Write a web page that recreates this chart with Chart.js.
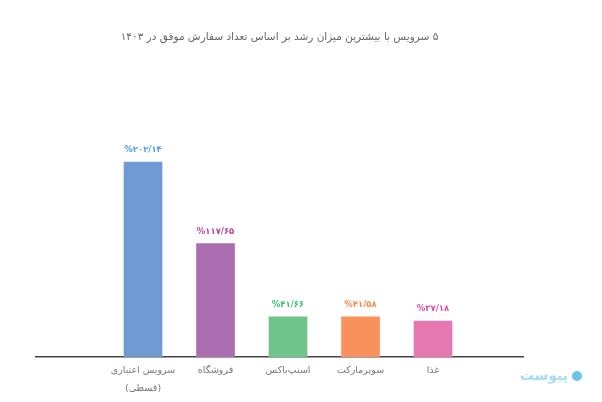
<!DOCTYPE html>
<html lang="fa">
<head>
<meta charset="utf-8">
<title>رشد سرویس‌ها</title>
<script src="https://cdn.jsdelivr.net/npm/chart.js@4/dist/chart.umd.min.js"></script>
<style>
  body { margin: 0; background: #fff; }
  #wrap { position: relative; width: 602px; height: 402px; }
  canvas { display: block; }
  #logo { position: absolute; left: 522px; top: 367px; width: 60px; color: #a5dcf2; font: bold 14px "DejaVu Sans", sans-serif; direction: rtl; white-space: nowrap; }
  #logo i { display: inline-block; width: 10px; height: 10px; border-radius: 50%; background: #6cc5e8; margin-left: 4px; vertical-align: -1px; }
</style>
</head>
<body>
<div id="wrap">
  <canvas id="chart" width="602" height="402" dir="rtl"></canvas>
  <div id="logo"><i></i>پیوست</div>
</div>
<script>
const titleText = "۵ سرویس با بیشترین میزان رشد بر اساس تعداد سفارش موفق در ۱۴۰۳";
const categories = [["سرویس اعتباری", "(قسطی)"], "فروشگاه", "اسنپ‌باکس", "سوپرمارکت", "غذا"];
const values = [202.14, 117.65, 41.66, 41.58, 37.18];
const valueLabels = ["%۲۰۲/۱۴", "%۱۱۷/۶۵", "%۴۱/۶۶", "%۴۱/۵۸", "%۳۷/۱۸"];
const barColors = ["#6f9bd2", "#ab6fb1", "#6fc48b", "#f8915c", "#e678b1"];
const labelColors = ["#4f9fe3", "#b5489f", "#3fbf78", "#f58c4b", "#e64fa6"];
const fontName = '"DejaVu Sans", sans-serif';

// value labels above bars
const valueLabelPlugin = {
  id: "valueLabels",
  afterDatasetsDraw(chart) {
    const ctx = chart.ctx;
    ctx.save();
    ctx.textAlign = "center";
    ctx.textBaseline = "bottom";
    ctx.font = "bold 8.5px " + fontName;
    chart.getDatasetMeta(0).data.forEach((bar, i) => {
      ctx.fillStyle = labelColors[i];
      ctx.fillText(valueLabels[i], bar.x, bar.y - 8);
    });
    ctx.restore();
  }
};

new Chart(document.getElementById("chart"), {
  type: "bar",
  data: {
    datasets: [{
      data: values.map((v, i) => ({ x: i, y: v })),
      backgroundColor: barColors,
      barThickness: 38
    }]
  },
  options: {
    responsive: false,
    animation: false,
    layout: { padding: { left: 36, right: 79, bottom: -1 } },
    plugins: {
      legend: { display: false },
      tooltip: { enabled: false },
      title: {
        display: true,
        text: titleText,
        color: "#666",
        font: { family: fontName, size: 10.5, weight: "normal" },
        padding: { top: 31, bottom: 6 }
      }
    },
    scales: {
      x: {
        type: "linear",
        offset: false,
        min: -1.476,
        max: 5.241,
        afterBuildTicks: (axis) => { axis.ticks = categories.map((c, i) => ({ value: i })); },
        grid: { display: false, drawTicks: false },
        border: { display: true, color: "#444", width: 1.5 },
        ticks: {
          autoSkip: false,
          maxRotation: 0,
          color: "#777",
          padding: 5,
          font: { family: fontName, size: 9.5, lineHeight: 1.9 },
          callback: (value) => categories[value]
        }
      },
      y: { display: false, min: 0, max: 319 }
    }
  },
  plugins: [valueLabelPlugin]
});
</script>
</body>
</html>
